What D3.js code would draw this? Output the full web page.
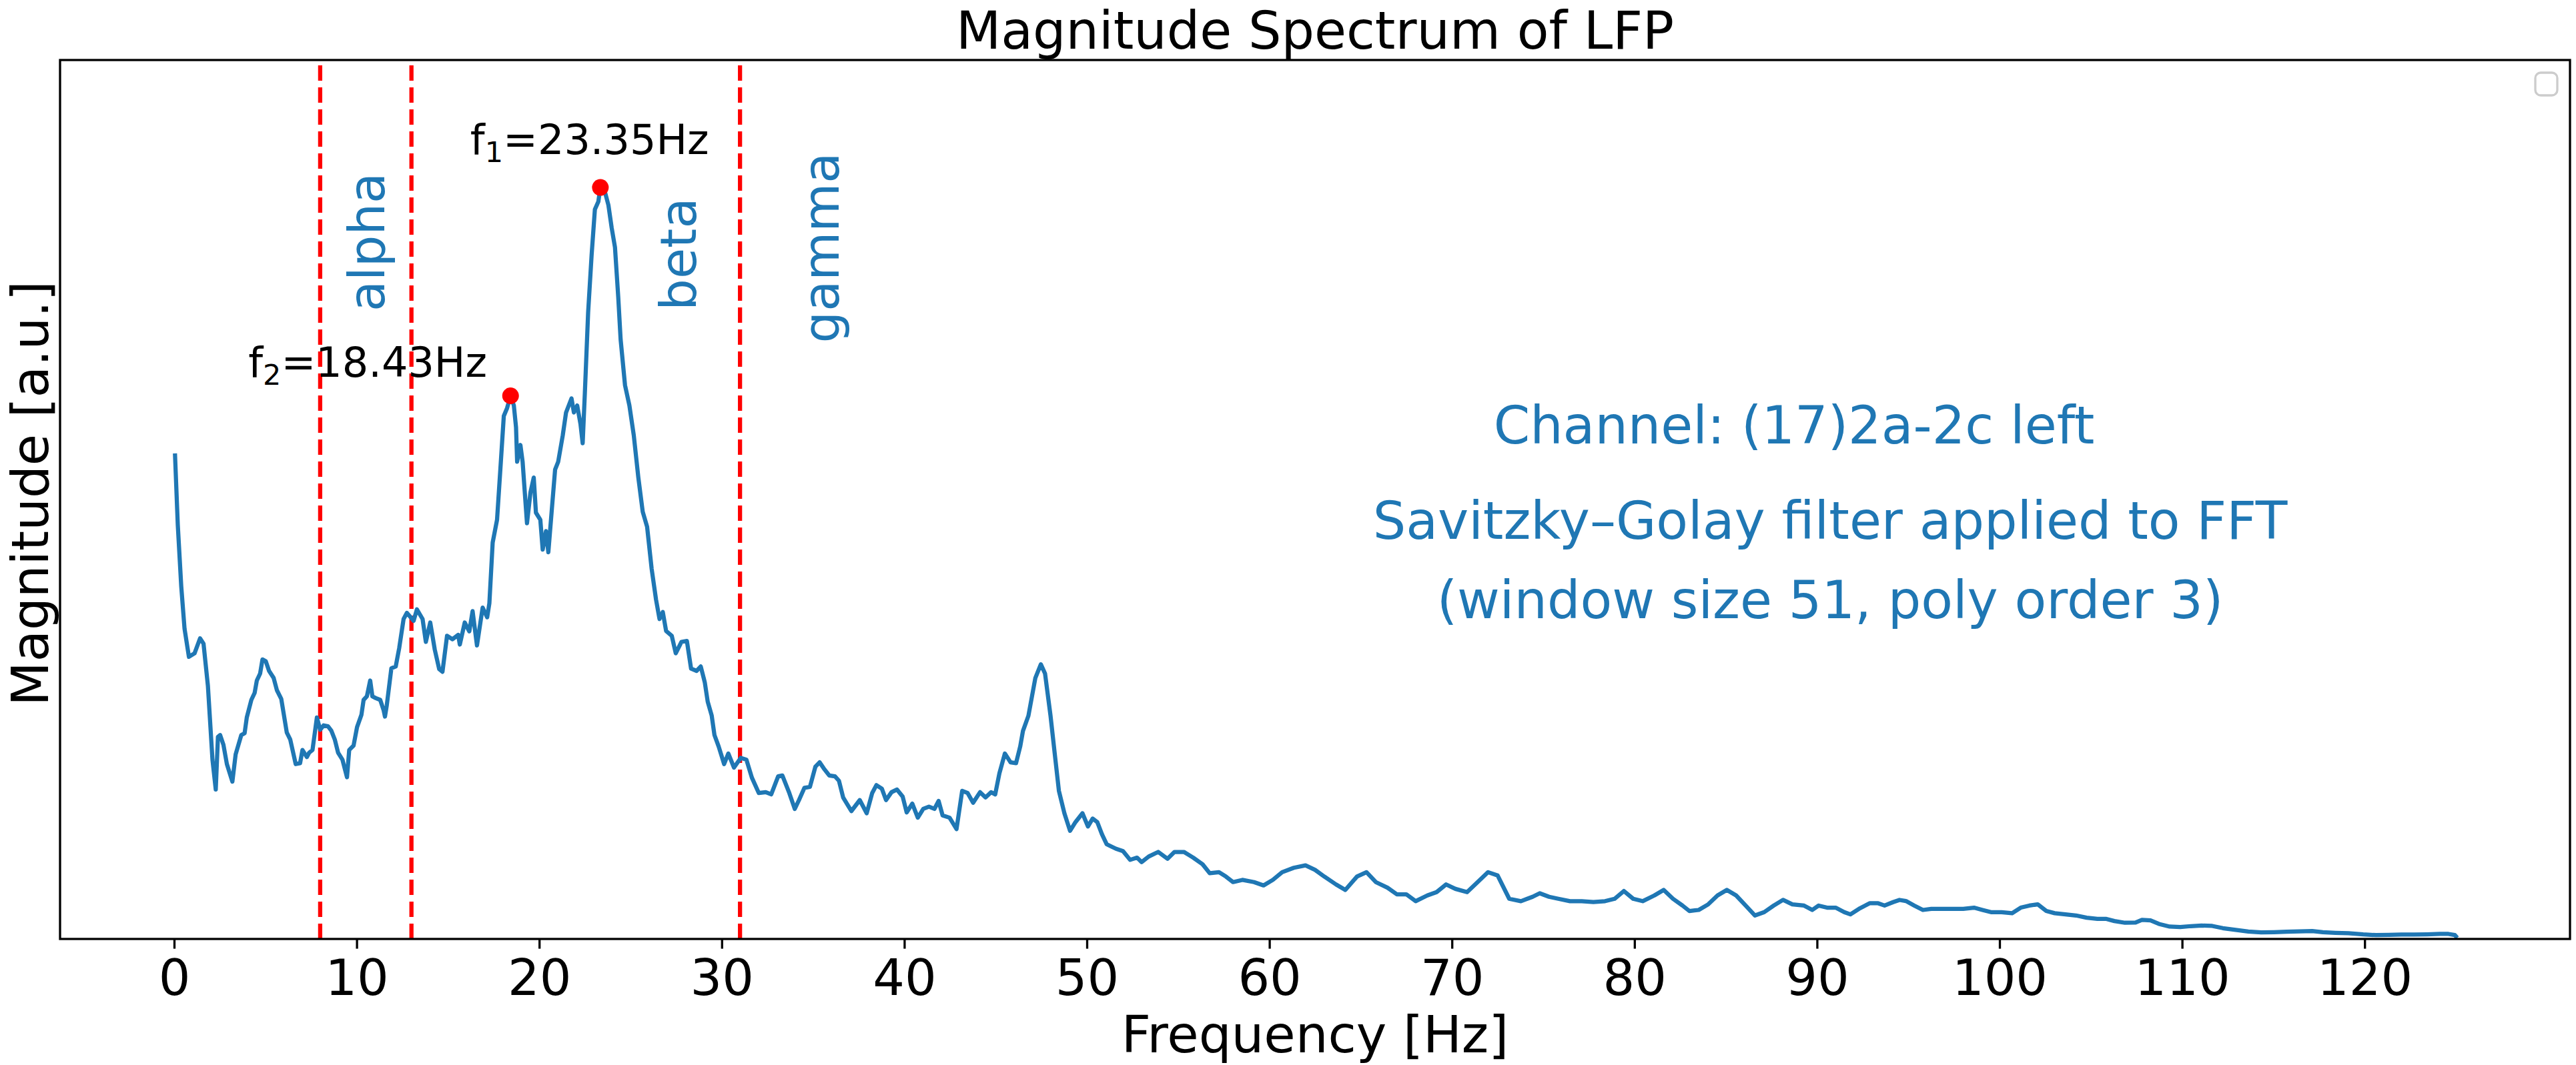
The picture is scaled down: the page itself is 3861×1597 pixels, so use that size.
<!DOCTYPE html>
<html>
<head>
<meta charset="utf-8">
<script src="https://cdn.jsdelivr.net/npm/d3@7"></script>
<style>
  body { margin: 0; background: #fff; }
  text { font-family: "DejaVu Sans", sans-serif; }
</style>
</head>
<body>
<script>
// frequency bins [Hz] and smoothed magnitude [a.u.]
var freqs = [
  0.05, 0.2, 0.39, 0.57, 0.81, 1.12, 1.42, 1.61, 1.85, 2.1, 2.28, 2.4, 2.52, 2.7, 2.89, 3.19, 3.37, 3.68, 3.86, 3.98,
  4.23, 4.41, 4.53, 4.71, 4.84, 5.02, 5.2, 5.45, 5.63, 5.87, 6.17, 6.36, 6.66, 6.9, 7.03, 7.27, 7.4, 7.58, 7.82, 8.0,
  8.19, 8.43, 8.61, 8.8, 8.98, 9.22, 9.47, 9.59, 9.83, 10.02, 10.26, 10.38, 10.56, 10.74, 10.86, 11.05, 11.29, 11.48, 11.55, 11.65,
  11.9, 12.14, 12.33, 12.57, 12.75, 13.12, 13.3, 13.61, 13.79, 14.03, 14.28, 14.52, 14.7, 14.95, 15.25, 15.56, 15.65, 15.92, 16.17, 16.35,
  16.59, 16.9, 17.15, 17.27, 17.45, 17.69, 17.87, 18.06, 18.24, 18.43, 18.61, 18.73, 18.79, 18.97, 19.09, 19.33, 19.52, 19.7, 19.82, 20.06,
  20.19, 20.37, 20.5, 20.68, 20.87, 21.04, 21.29, 21.47, 21.77, 21.9, 22.08, 22.26, 22.38, 22.5, 22.68, 22.87, 23.05, 23.24, 23.35, 23.6,
  23.79, 23.97, 24.15, 24.33, 24.46, 24.7, 24.94, 25.18, 25.43, 25.67, 25.91, 26.16, 26.4, 26.59, 26.77, 26.95, 27.26, 27.48, 27.79, 28.09,
  28.32, 28.62, 28.85, 29.07, 29.23, 29.45, 29.6, 29.83, 30.13, 30.36, 30.67, 31.04, 31.35, 31.65, 32.03, 32.41, 32.71, 33.09, 33.32, 33.7,
  34.0, 34.23, 34.53, 34.83, 35.13, 35.36, 35.59, 35.89, 36.2, 36.42, 36.65, 37.1, 37.56, 37.94, 38.24, 38.47, 38.77, 39.0, 39.3, 39.6,
  39.91, 40.13, 40.44, 40.74, 41.04, 41.35, 41.65, 41.88, 42.1, 42.48, 42.86, 43.17, 43.47, 43.77, 44.15, 44.45, 44.76, 44.98, 45.21, 45.51,
  45.82, 46.12, 46.35, 46.5, 46.8, 47.18, 47.48, 47.71, 48.01, 48.24, 48.47, 48.77, 49.08, 49.38, 49.76, 50.06, 50.32, 50.57, 50.83, 51.09,
  51.6, 51.98, 52.37, 52.75, 53.0, 53.39, 53.91, 54.42, 54.8, 55.32, 55.83, 56.34, 56.73, 57.24, 57.62, 58.01, 58.52, 59.16, 59.68, 60.19,
  60.7, 61.34, 61.98, 62.5, 63.01, 63.65, 64.16, 64.8, 65.32, 65.83, 66.47, 66.98, 67.5, 68.01, 68.65, 69.16, 69.68, 70.19, 70.83, 71.34,
  71.98, 72.5, 73.14, 73.78, 74.42, 74.81, 75.32, 75.83, 76.47, 77.11, 77.75, 78.39, 78.91, 79.42, 79.93, 80.45, 81.09, 81.6, 82.11, 82.63,
  83.01, 83.52, 84.04, 84.55, 85.06, 85.57, 86.09, 86.6, 87.11, 87.63, 88.14, 88.65, 89.29, 89.74, 90.09, 90.55, 91.02, 91.49, 91.83, 92.3,
  92.88, 93.35, 93.7, 94.17, 94.52, 94.87, 95.33, 95.8, 96.26, 96.85, 97.43, 98.01, 98.6, 99.06, 99.53, 100.11, 100.69, 101.16, 101.63, 102.09,
  102.56, 103.02, 103.61, 104.19, 104.77, 105.36, 105.82, 106.29, 106.87, 107.45, 107.8, 108.27, 108.73, 109.32, 109.9, 110.48, 111.07, 111.65, 112.23, 112.93,
  113.63, 114.33, 115.03, 115.73, 116.43, 117.13, 117.71, 118.41, 119.11, 119.92, 120.62, 121.32, 122.02, 122.72, 123.42, 124.12, 124.59, 124.94, 125.0
];
var magnitude = [
  55.0, 47.1, 40.1, 35.3, 32.1, 32.5, 34.2, 33.6, 28.8, 20.4, 17.0, 23.0, 23.2, 22.1, 19.9, 17.9, 21.0, 23.2, 23.4, 25.2,
  27.2, 28.0, 29.4, 30.2, 31.8, 31.6, 30.5, 29.7, 28.3, 27.3, 23.5, 22.7, 19.9, 20.0, 21.5, 20.7, 21.2, 21.5, 25.2, 23.8,
  24.3, 24.2, 23.7, 22.7, 21.2, 20.4, 18.4, 21.5, 22.0, 24.1, 25.5, 27.2, 27.6, 29.4, 27.6, 27.4, 27.2, 26.0, 25.3, 26.6,
  30.8, 31.0, 33.1, 36.4, 37.1, 36.2, 37.5, 36.4, 33.8, 36.0, 32.9, 30.7, 30.4, 34.5, 34.1, 34.6, 33.5, 36.0, 35.0, 37.3,
  33.4, 37.7, 36.6, 38.2, 45.1, 47.7, 53.4, 59.5, 60.4, 61.8, 60.7, 58.2, 54.3, 56.2, 54.3, 47.3, 50.8, 52.5, 48.5, 47.7,
  44.3, 46.4, 44.0, 48.6, 53.4, 54.3, 57.3, 59.9, 61.5, 59.9, 60.7, 58.6, 56.4, 62.1, 71.3, 77.8, 83.0, 83.9, 85.5, 85.0,
  83.5, 80.9, 78.7, 73.0, 68.2, 63.0, 60.7, 57.3, 52.5, 48.6, 46.9, 42.1, 38.6, 36.4, 37.2, 35.05, 34.5, 32.5, 33.8, 33.9,
  30.75, 30.5, 31.0, 29.2, 27.0, 25.4, 23.2, 21.9, 19.9, 21.1, 19.5, 20.6, 20.4, 18.35, 16.6, 16.7, 16.45, 18.5, 18.6, 16.6,
  14.8, 15.8, 17.2, 17.3, 19.6, 20.1, 19.4, 18.6, 18.5, 18.0, 16.1, 14.55, 15.8, 14.3, 16.6, 17.5, 17.1, 15.8, 16.7, 17.0,
  16.2, 14.4, 15.4, 13.8, 14.8, 15.05, 14.8, 15.7, 14.05, 13.8, 12.5, 16.85, 16.6, 15.5, 16.7, 16.1, 16.7, 16.45, 18.85, 21.1,
  20.1, 20.0, 21.9, 23.66, 25.4, 29.7, 31.25, 30.2, 25.4, 21.1, 16.85, 14.3, 12.3, 13.3, 14.3, 12.8, 13.7, 13.3, 11.9, 10.77,
  10.26, 10.0, 9.0, 9.25, 8.75, 9.38, 9.9, 9.13, 9.9, 9.9, 9.25, 8.5, 7.48, 7.6, 7.1, 6.47, 6.72, 6.47, 6.09, 6.72,
  7.6, 8.1, 8.37, 7.86, 7.1, 6.2, 5.58, 7.1, 7.6, 6.47, 5.83, 5.08, 5.08, 4.3, 4.95, 5.33, 6.2, 5.7, 5.33, 6.34,
  7.6, 7.23, 4.57, 4.3, 4.8, 5.2, 4.8, 4.57, 4.3, 4.3, 4.2, 4.3, 4.57, 5.46, 4.57, 4.3, 4.95, 5.58, 4.57, 3.8,
  3.18, 3.3, 3.94, 4.95, 5.58, 4.95, 3.8, 2.67, 3.05, 3.8, 4.45, 3.94, 3.8, 3.3, 3.8, 3.56, 3.56, 3.05, 2.8, 3.43,
  4.06, 4.06, 3.8, 4.19, 4.44, 4.32, 3.8, 3.3, 3.43, 3.43, 3.43, 3.43, 3.56, 3.3, 3.05, 3.05, 2.93, 3.56, 3.8, 3.94,
  3.18, 2.93, 2.8, 2.67, 2.42, 2.29, 2.29, 2.04, 1.84, 1.86, 2.17, 2.12, 1.71, 1.41, 1.36, 1.46, 1.53, 1.48, 1.23, 1.03,
  0.85, 0.75, 0.77, 0.82, 0.87, 0.9, 0.77, 0.7, 0.65, 0.52, 0.44, 0.47, 0.5, 0.5, 0.52, 0.57, 0.57, 0.44, 0.3
];

// detected peaks
var peakFreqs = [23.35, 18.43];
var peakMags = [85.5, 61.8];
var peakLabels = ['1', '2'];

// band edges and band names
var bandEdges = [8, 13, 31];
var bandNames = ['alpha', 'beta', 'gamma'];

var xTicks = [0, 10, 20, 30, 40, 50, 60, 70, 80, 90, 100, 110, 120];

var width = 3861, height = 1597;
var blue = '#1f77b4';

var svg = d3.select('body').append('svg')
  .attr('width', width).attr('height', height);

var x = d3.scaleLinear().domain([-6.25, 131.25]).range([90, 3852]);
var y = d3.scaleLinear().domain([0, 100]).range([1408, 90]);

var plot = svg.append('g');

// band boundaries
plot.selectAll('line.band')
  .data(bandEdges)
  .enter().append('line')
  .attr('class', 'band')
  .attr('x1', function (d) { return x(d); })
  .attr('x2', function (d) { return x(d); })
  .attr('y1', y.range()[0])
  .attr('y2', y.range()[1])
  .attr('stroke', 'red')
  .attr('stroke-width', 6.25)
  .attr('stroke-dasharray', '23,10');

// spectrum
var line = d3.line()
  .x(function (d, i) { return x(freqs[i]); })
  .y(function (d) { return y(d); });

plot.append('path')
  .datum(magnitude)
  .attr('d', line)
  .attr('fill', 'none')
  .attr('stroke', blue)
  .attr('stroke-width', 6.25)
  .attr('stroke-linejoin', 'round')
  .attr('stroke-linecap', 'square');

// peak markers
plot.selectAll('circle')
  .data(peakFreqs)
  .enter().append('circle')
  .attr('cx', function (d) { return x(d); })
  .attr('cy', function (d, i) { return y(peakMags[i]); })
  .attr('r', 12.5)
  .attr('fill', 'red');

// peak labels, placed like the original annotations
var peakText = [{ dx: -195, dy: -50 }, { dx: -393, dy: -28 }];
peakFreqs.forEach(function (f, i) {
  var t = plot.append('text')
    .attr('x', x(f) + peakText[i].dx)
    .attr('y', y(peakMags[i]) + peakText[i].dy)
    .attr('font-size', 62)
    .attr('fill', 'black');
  t.append('tspan').text('f');
  t.append('tspan').attr('font-size', 43).attr('dy', 12).text(peakLabels[i]);
  t.append('tspan').attr('dy', -12).text('=' + f.toFixed(2) + 'Hz');
});

// band names, rotated
var bandPos = [{ f: 11.5, v: 71.4 }, { f: 28.6, v: 71.5 }, { f: 36.4, v: 67.8 }];
bandNames.forEach(function (name, i) {
  var px = x(bandPos[i].f), py = y(bandPos[i].v);
  plot.append('text')
    .attr('transform', 'translate(' + px + ',' + py + ') rotate(-90)')
    .attr('font-size', 75)
    .attr('fill', blue)
    .text(name);
});

// channel notes
var notes = svg.append('g').attr('fill', blue).attr('font-size', 78).attr('text-anchor', 'middle');
notes.append('text').attr('x', 2689).attr('y', 665).text('Channel: (17)2a-2c left');
notes.append('text').attr('x', 2743).attr('y', 808).text('Savitzky\u2013Golay filter applied to FFT');
notes.append('text').attr('x', 2743).attr('y', 927).text('(window size 51, poly order 3)');

// empty legend frame
svg.append('rect')
  .attr('x', 3800).attr('y', 109)
  .attr('width', 33).attr('height', 34)
  .attr('rx', 8)
  .attr('fill', 'white')
  .attr('stroke', '#cccccc')
  .attr('stroke-width', 3.3);

// x axis
var xAxis = d3.axisBottom(x)
  .tickValues(xTicks)
  .tickSize(14.6)
  .tickPadding(16)
  .tickFormat(d3.format('d'));

var gx = svg.append('g')
  .attr('transform', 'translate(0,' + y.range()[0] + ')')
  .call(xAxis);
gx.select('.domain').remove();
gx.selectAll('.tick line').attr('stroke', 'black').attr('stroke-width', 3.3);
gx.selectAll('.tick text')
  .attr('fill', 'black')
  .attr('font-size', 75)
  .attr('font-family', '"DejaVu Sans", sans-serif');

// frame
svg.append('rect')
  .attr('x', x.range()[0]).attr('y', y.range()[1])
  .attr('width', x.range()[1] - x.range()[0])
  .attr('height', y.range()[0] - y.range()[1])
  .attr('fill', 'none')
  .attr('stroke', 'black')
  .attr('stroke-width', 3.3);

// titles
svg.append('text')
  .attr('x', (x.range()[0] + x.range()[1]) / 2).attr('y', 73)
  .attr('text-anchor', 'middle').attr('font-size', 78)
  .text('Magnitude Spectrum of LFP');

svg.append('text')
  .attr('x', (x.range()[0] + x.range()[1]) / 2).attr('y', 1578)
  .attr('text-anchor', 'middle').attr('font-size', 77)
  .text('Frequency [Hz]');

svg.append('text')
  .attr('transform', 'translate(72,740) rotate(-90)')
  .attr('text-anchor', 'middle').attr('font-size', 77)
  .text('Magnitude [a.u.]');
</script>
</body>
</html>
